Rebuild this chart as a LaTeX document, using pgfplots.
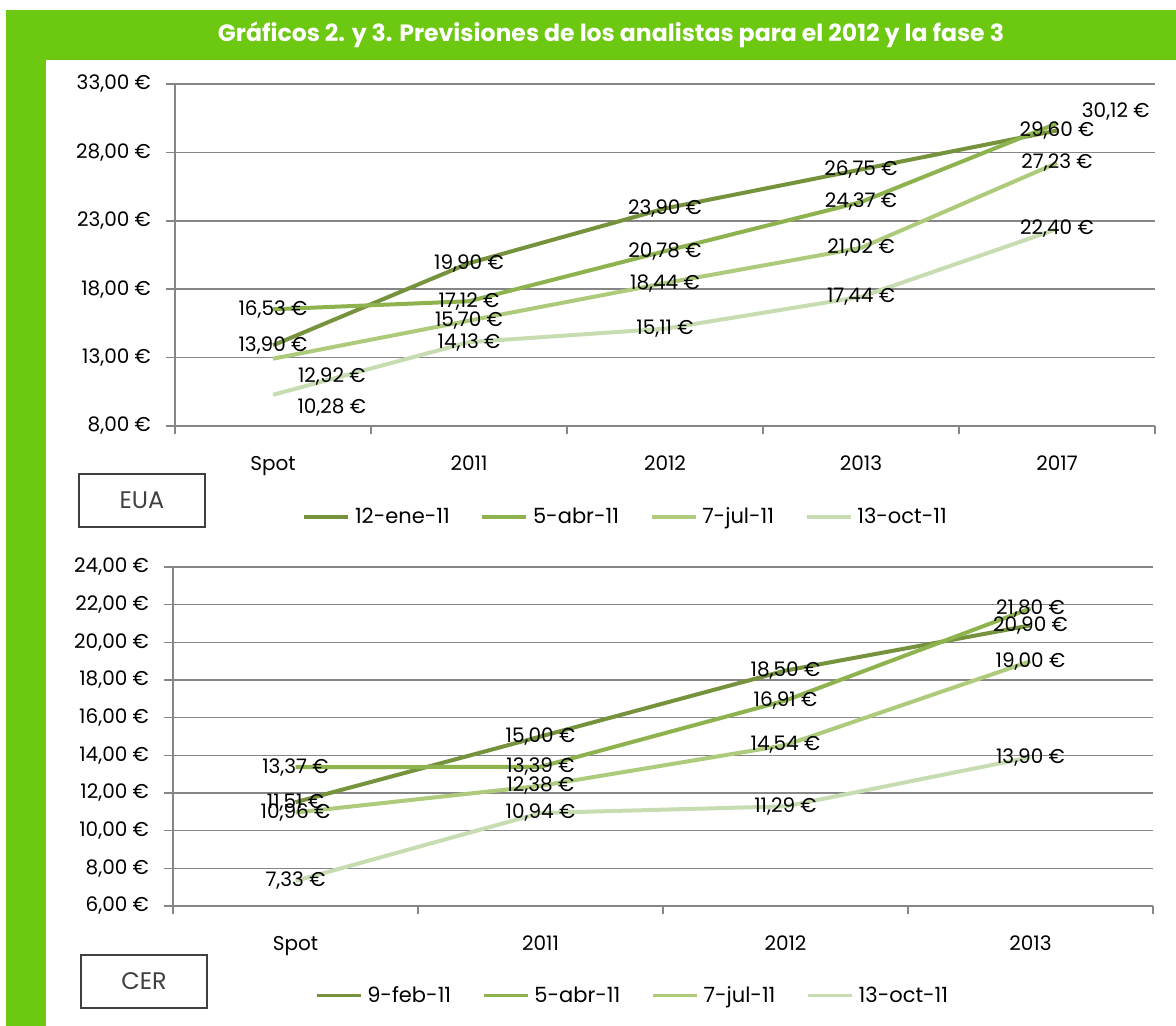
\documentclass[border=0pt]{standalone}
\usepackage{fontspec}
\setmainfont{Poppins}
\usepackage{pgfplots}
\pgfplotsset{compat=1.18}

\definecolor{frame}{RGB}{108,200,16}
\definecolor{s1}{RGB}{118,146,60}
\definecolor{s2}{RGB}{141,178,78}
\definecolor{s3}{RGB}{174,203,124}
\definecolor{s4}{RGB}{200,220,178}
\definecolor{gridc}{RGB}{134,134,134}
\definecolor{boxc}{RGB}{64,64,64}

\newcommand{\lblfont}{\fontsize{10}{12}\selectfont}
\newcommand{\legfont}{\fontsize{10.5}{12}\selectfont}

\pgfplotsset{
  chart/.style={
    scale only axis,
    axis x line*=bottom, axis y line*=left,
    axis line style={-, gridc, line width=0.8pt},
    ymajorgrids, grid style={gridc, line width=0.8pt},
    tick align=outside,
    major tick length=4.5pt, minor tick length=4pt,
    tick style={gridc, line width=0.8pt},
    major x tick style={draw=none},
    ticklabel style={font=\lblfont, text=black},
    yticklabel style={anchor=east, xshift=-4pt},
    xticklabel style={anchor=north, yshift=-7pt},
    legend style={draw=none, fill=none, font=\legfont, legend columns=4,
      /tikz/every even column/.append style={column sep=14.5pt},
      /tikz/every odd column/.append style={column sep=1.5pt},
      nodes={inner sep=1pt}},
    legend cell align=left,
    legend image code/.code={\draw[#1, line width=1.6pt] (0pt,0pt) -- (22pt,0pt);},
    every axis plot/.append style={line width=2pt, line join=round, mark=none},
    clip=false,
  },
  lbl/.style={draw=none, forget plot, nodes near coords, point meta=explicit symbolic,
    nodes near coords align=center,
    every node near coord/.append style={font=\lblfont, text=black, inner sep=0pt}},
}

\begin{document}
\begin{tikzpicture}
\fill[white] (0pt,0pt) rectangle (588pt,513pt);
\fill[frame] (3pt,508pt) rectangle (588pt,483pt);
\fill[frame] (3pt,0pt) rectangle (23pt,508pt);
\node[text=white, font=\bfseries\fontsize{11.8}{13}\selectfont] at (305.5pt,495.5pt)
  {Gráficos 2. y 3. Previsiones de los analistas para el 2012 y la fase 3};

% EUA
\begin{axis}[chart,
  at={(87.5pt,300pt)}, anchor=south west,
  width=490pt, height=171pt,
  xmin=-0.5, xmax=4.5, ymin=8, ymax=33,
  xtick={0,1,2,3,4}, xticklabels={Spot,2011,2012,2013,2017},
  minor xtick={-0.5,0.5,1.5,2.5,3.5,4.5},
  ytick={8,13,18,23,28,33},
  yticklabels={{8,00 €},{13,00 €},{18,00 €},{23,00 €},{28,00 €},{33,00 €}},
  legend style={at={(0.46,-0.266)}, anchor=center},
  legend entries={12-ene-11,5-abr-11,7-jul-11,13-oct-11},
]
\addplot[s1] coordinates {(0,13.90) (1,19.90) (2,23.90) (3,26.75) (4,29.60)};
\addplot[s2] coordinates {(0,16.53) (1,17.12) (2,20.78) (3,24.37) (4,30.12)};
\addplot[s3] coordinates {(0,12.92) (1,15.70) (2,18.44) (3,21.02) (4,27.23)};
\addplot[s4] coordinates {(0,10.28) (1,14.13) (2,15.11) (3,17.44) (4,22.40)};
\addplot[lbl] table[col sep=semicolon, row sep=\\, meta=l]{
x;y;l\\
0;16.53;16,53 €\\
0;13.90;13,90 €\\
0.30;11.58;12,92 €\\
0.30;9.32;10,28 €\\
1;19.90;19,90 €\\
1;17.12;17,12 €\\
1;15.70;15,70 €\\
1;14.13;14,13 €\\
2;23.90;23,90 €\\
2;20.78;20,78 €\\
2;18.44;18,44 €\\
2;15.11;15,11 €\\
3;26.75;26,75 €\\
3;24.37;24,37 €\\
3;21.02;21,02 €\\
3;17.44;17,44 €\\
4.30;30.95;30,12 €\\
4;29.60;29,60 €\\
4;27.23;27,23 €\\
4;22.40;22,40 €\\
};
\end{axis}

% CER
\begin{axis}[chart,
  at={(86.5pt,60pt)}, anchor=south west,
  width=490pt, height=169.5pt,
  xmin=-0.5, xmax=3.5, ymin=6, ymax=24,
  xtick={0,1,2,3}, xticklabels={Spot,2011,2012,2013},
  minor xtick={-0.5,0.5,1.5,2.5,3.5},
  ytick={6,8,10,12,14,16,18,20,22,24},
  yticklabels={{6,00 €},{8,00 €},{10,00 €},{12,00 €},{14,00 €},{16,00 €},{18,00 €},{20,00 €},{22,00 €},{24,00 €}},
  legend style={at={(0.469,-0.265)}, anchor=center},
  legend entries={9-feb-11,5-abr-11,7-jul-11,13-oct-11},
]
\addplot[s1] coordinates {(0,11.51) (1,15.00) (2,18.50) (3,20.90)};
\addplot[s2] coordinates {(0,13.37) (1,13.39) (2,16.91) (3,21.80)};
\addplot[s3] coordinates {(0,10.96) (1,12.38) (2,14.54) (3,19.00)};
\addplot[s4] coordinates {(0,7.33) (1,10.94) (2,11.29) (3,13.90)};
\addplot[lbl] table[col sep=semicolon, row sep=\\, meta=l]{
x;y;l\\
0;13.37;13,37 €\\
0;11.51;11,51 €\\
0;10.96;10,96 €\\
0;7.33;7,33 €\\
1;15.00;15,00 €\\
1;13.39;13,39 €\\
1;12.38;12,38 €\\
1;10.94;10,94 €\\
2;18.50;18,50 €\\
2;16.91;16,91 €\\
2;14.54;14,54 €\\
2;11.29;11,29 €\\
3;21.80;21,80 €\\
3;20.90;20,90 €\\
3;19.00;19,00 €\\
3;13.90;13,90 €\\
};
\end{axis}

\draw[boxc, line width=1pt] (39.5pt,249.5pt) rectangle (102.5pt,276pt);
\node[text=boxc, font=\fontsize{12}{14}\selectfont] at (71pt,262.75pt) {EUA};
\draw[boxc, line width=1pt] (40.5pt,9pt) rectangle (103.5pt,35.5pt);
\node[text=boxc, font=\fontsize{12}{14}\selectfont] at (72pt,22.25pt) {CER};
\end{tikzpicture}
\end{document}
